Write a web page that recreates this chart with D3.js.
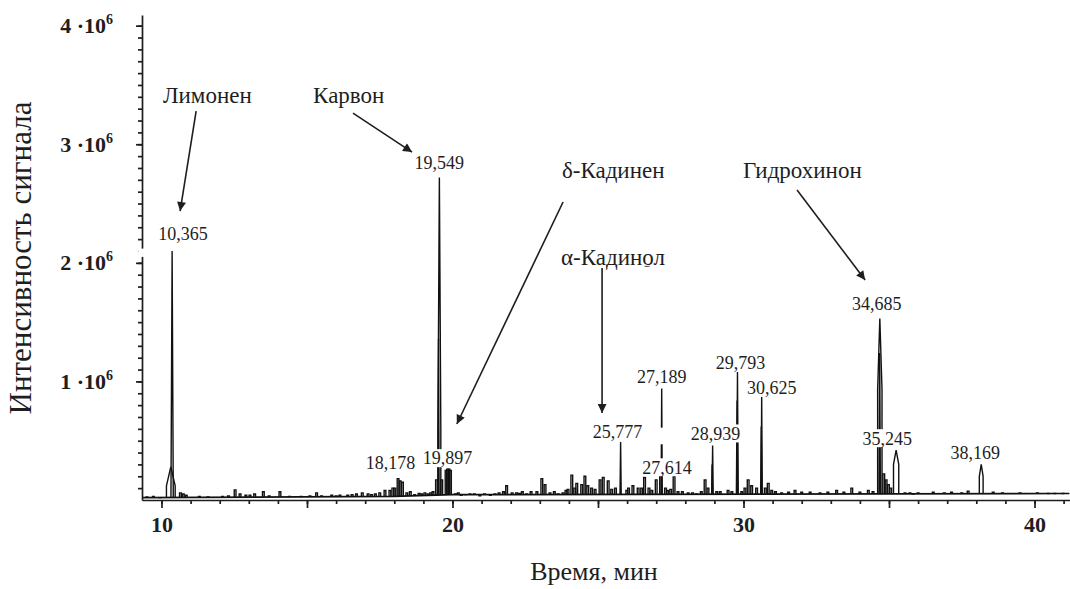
<!DOCTYPE html>
<html>
<head>
<meta charset="utf-8">
<script src="https://cdn.jsdelivr.net/npm/d3@7"></script>
<style>
  body { margin: 0; background: #fff; }
  svg { display: block; }
  text { font-family: "Liberation Serif", "Times New Roman", serif; fill: #1e1e1e; }
</style>
</head>
<body>
<div id="chart"></div>
<script>
//////// data (time in min, intensity in 10^6) ////////

// main peaks: retention time, top, base width, height where the two flanks meet
var peakTimes   = [10.32, 10.365, 19.549, 19.52, 25.777, 27.189, 28.939, 28.92, 29.793, 29.78, 30.625, 30.61, 34.685, 34.68, 35.245, 38.169];
var peakHeights = [0.28,  2.10,   2.72,   1.36,  0.49,   0.94,   0.46,   0.30,  1.08,   0.84,  0.87,   0.62,  1.53,   1.24,  0.42,   0.30];
var peakWidths  = [0.30,  0.08,   0.10,   0.04,  0.04,   0.04,   0.04,   0.03,  0.05,   0.05,  0.04,   0.04,  0.15,   0.05,  0.18,   0.13];
var peakFlanks  = [0.12,  0,      0.60,   0,     0,      0,      0,      0,     0,      0,     0,      0,     0.93,   0,     0.30,   0.20];

// small peaks along the baseline
var noiseTimes = [9.5, 9.72, 9.95, 10.65, 10.75, 10.85, 12.1, 12.53, 12.7, 13.04, 13.2, 13.5, 14.07,
  15.33, 15.5, 15.85, 16.13, 16.4, 16.7, 16.9, 17.22, 17.5, 17.68, 17.85, 18.02, 18.13, 18.2, 18.28,
  18.43, 18.7, 18.94, 19.16, 19.33, 19.45, 19.63, 19.78, 19.83, 19.88, 19.93,
  20.1, 20.3, 20.45, 20.94, 21.3, 21.46, 21.86, 22.05, 22.2, 22.3, 22.55, 22.9, 23.07, 23.18, 23.35,
  23.63, 23.8, 23.97, 24.1, 24.27, 24.44, 24.55, 24.78, 25.07, 25.18, 25.35, 25.47, 25.99, 26.2,
  26.38, 26.6, 26.85, 27.0, 27.15, 27.32, 27.4, 27.614, 27.75, 28.1, 28.39, 28.68, 28.78, 29.08,
  29.47, 29.94, 30.16, 30.28, 30.45, 30.85, 30.97, 31.31, 31.77, 32.29, 32.63, 33.2, 33.72, 34.0,
  34.29, 34.45, 34.82, 34.9, 34.98, 35.06, 35.55, 35.72, 35.83, 36.52, 37.15, 37.72, 38.58,
  40.47, 40.7, 40.98,
  11.3, 11.6, 12.3, 12.9, 13.7, 14.4, 14.8, 15.1, 16.0, 16.55, 17.1, 17.35, 17.95, 18.55, 18.85,
  19.05, 19.25, 20.2, 20.6, 20.75, 21.1, 21.6, 21.75, 22.4, 22.7, 23.5, 23.9, 24.2, 24.65, 24.9,
  25.6, 26.05, 26.5, 26.75, 27.5, 27.9, 28.25, 28.55, 29.2, 29.6, 30.05, 30.75, 31.1, 31.55, 32.0,
  32.9, 33.45, 36.0, 36.9, 37.5, 38.9, 39.5, 40.1];
var noiseHeights = [0.025, 0.03, 0.02, 0.06, 0.05, 0.04, 0.03, 0.085, 0.05, 0.04, 0.05, 0.07, 0.07,
  0.06, 0.035, 0.04, 0.04, 0.04, 0.05, 0.06, 0.045, 0.06, 0.08, 0.08, 0.1, 0.18, 0.16, 0.15,
  0.06, 0.045, 0.05, 0.05, 0.07, 0.17, 0.17, 0.25, 0.26, 0.26, 0.25,
  0.05, 0.04, 0.045, 0.035, 0.04, 0.05, 0.12, 0.06, 0.06, 0.055, 0.05, 0.07, 0.18, 0.13, 0.06,
  0.05, 0.06, 0.09, 0.21, 0.14, 0.13, 0.2, 0.1, 0.17, 0.19, 0.16, 0.09, 0.08, 0.12,
  0.1, 0.19, 0.08, 0.17, 0.2, 0.1, 0.08, 0.2, 0.07, 0.06, 0.05, 0.17, 0.1, 0.07,
  0.08, 0.07, 0.17, 0.12, 0.1, 0.14, 0.08, 0.06, 0.08, 0.065, 0.06, 0.08, 0.1, 0.065,
  0.08, 0.07, 0.22, 0.17, 0.13, 0.1, 0.06, 0.06, 0.05, 0.065, 0.065, 0.075, 0.065,
  0.055, 0.055, 0.055,
  0.03, 0.025, 0.035, 0.04, 0.035, 0.03, 0.03, 0.035, 0.035, 0.045, 0.05, 0.05, 0.1, 0.07, 0.055,
  0.06, 0.06, 0.06, 0.05, 0.05, 0.05, 0.06, 0.07, 0.07, 0.07, 0.07, 0.08, 0.1, 0.12, 0.09,
  0.1, 0.1, 0.1, 0.1, 0.09, 0.07, 0.06, 0.07, 0.07, 0.07, 0.1, 0.1, 0.07, 0.065, 0.065,
  0.065, 0.065, 0.06, 0.06, 0.06, 0.06, 0.06, 0.06];

// baseline level of the trace
var baseTimes  = [9.35, 18, 20, 41.2];
var baseLevels = [0.02, 0.03, 0.045, 0.055];

// peak labels
var labelTexts   = ["10,365", "19,549", "18,178", "19,897", "25,777", "27,189", "27,614", "28,939", "29,793", "30,625", "34,685", "35,245", "38,169"];
var labelTimes   = [10.365, 19.549, 18.178, 19.897, 25.777, 27.189, 27.614, 28.939, 29.793, 30.625, 34.685, 35.245, 38.169];
var labelHeights = [2.10, 2.72, 0.18, 0.26, 0.49, 0.94, 0.20, 0.46, 1.08, 0.87, 1.53, 0.42, 0.30];

// compound names
var names = ["Лимонен", "Карвон", "δ-Кадинен", "α-Кадинол", "Гидрохинон"];

var xTicks = [10, 20, 30, 40];
var yTicks = [1, 2, 3, 4];

//////// layout ////////
var width = 1070, height = 589;

var x = d3.scaleLinear().domain([9.33, 41.22]).range([142, 1070]);
var y = d3.scaleLinear().domain([0, 4.09]).range([500, 15]);
var base = d3.scaleLinear().domain(baseTimes).range(baseLevels);

// label offsets (px) from peak top
var labelDx = [11, 0, -9, -2, -3, 0, -7, 3, 3, 10, -3, -9, -6];
var labelLift = [17, 15, 16, 11, 10, 12, 9, 12, 9, 9, 15, 12, 12];

// name text positions and arrows, in chart units
var nameAt    = [[10.05, 3.347], [15.21, 3.347], [23.76, 2.715], [23.73, 1.98], [29.98, 2.715]];
var arrowFrom = [[11.19, 3.28], [16.58, 3.263], [23.8, 2.513], [25.14, 1.956], [31.84, 2.614]];
var arrowTo   = [[10.64, 2.437], [18.61, 2.934], [20.15, 0.641], [25.14, 0.734], [34.18, 1.855]];

var svg = d3.select("#chart").append("svg")
  .attr("width", width)
  .attr("height", height);

svg.append("defs").append("marker")
  .attr("id", "arrow")
  .attr("viewBox", "0 0 10 10")
  .attr("refX", 10)
  .attr("refY", 5)
  .attr("markerWidth", 10)
  .attr("markerHeight", 9)
  .attr("markerUnits", "userSpaceOnUse")
  .attr("orient", "auto")
  .append("path")
  .attr("d", "M0,0 L10,5 L0,10 Z")
  .attr("fill", "#1e1e1e");

//////// trace ////////
var line = d3.line()
  .x(function(d) { return x(d[0]); })
  .y(function(d) { return y(d[1]); });

var trace = svg.append("g")
  .attr("fill", "none")
  .attr("stroke", "#111")
  .attr("stroke-width", 1.4)
  .attr("stroke-linejoin", "miter");

trace.append("path")
  .attr("stroke-width", 1.7)
  .attr("d", line(baseTimes.map(function(t, i) { return [t, baseLevels[i]]; })));

function peakPoints(t, h, w, f) {
  var b = base(t);
  var pts = [[t - w / 2, b]];
  if (f > 0) pts.push([t - w / 2, f]);
  pts.push([t, h]);
  if (f > 0) pts.push([t + w / 2, f]);
  pts.push([t + w / 2, b]);
  return pts;
}

// small peaks drawn as narrow steps
function stepPoints(t, h, w) {
  var b = base(t);
  return [[t - w / 2, b], [t - w / 2, h], [t + w / 2, h], [t + w / 2, b]];
}

trace.selectAll(".noise")
  .data(noiseTimes)
  .enter().append("path")
  .attr("class", "noise")
  .attr("d", function(t, i) { return line(stepPoints(t, noiseHeights[i], 0.06)); });

trace.selectAll(".peak")
  .data(peakTimes)
  .enter().append("path")
  .attr("class", "peak")
  .attr("d", function(t, i) { return line(peakPoints(t, peakHeights[i], peakWidths[i], peakFlanks[i])); });

//////// axes ////////
var axisColor = "#1e1e1e";

function styleAxis(g) {
  g.selectAll("path, line").attr("stroke", axisColor).attr("stroke-width", 1.7);
  g.selectAll("text")
    .attr("font-family", "Liberation Serif, serif")
    .attr("font-weight", "bold")
    .attr("fill", axisColor);
}

// x minor ticks every minute, mid ticks every 5
svg.append("g")
  .attr("transform", "translate(0,500)")
  .call(d3.axisBottom(x).tickValues(d3.range(10, 42)).tickSize(4).tickFormat(""))
  .call(styleAxis)
  .select(".domain").remove();
svg.append("g")
  .attr("transform", "translate(0,500)")
  .call(d3.axisBottom(x).tickValues([15, 25, 35]).tickSize(8).tickFormat(""))
  .call(styleAxis)
  .select(".domain").remove();
svg.append("g")
  .attr("transform", "translate(0,500)")
  .call(d3.axisBottom(x).tickValues(xTicks).tickSize(8).tickSizeOuter(0).tickPadding(8))
  .call(styleAxis)
  .selectAll("text").attr("font-size", 22);

// y minor ticks every 0.1
svg.append("g")
  .attr("transform", "translate(142,0)")
  .call(d3.axisLeft(y).tickValues(d3.range(1, 41).map(function(v) { return v / 10; })).tickSize(4).tickFormat(""))
  .call(styleAxis)
  .select(".domain").remove();
var yAxis = svg.append("g")
  .attr("transform", "translate(142,0)")
  .call(d3.axisLeft(y).tickValues(yTicks).tickSize(6).tickSizeOuter(0).tickFormat(""))
  .call(styleAxis);

// y labels like 4·10^6
yAxis.selectAll(".tick").append("text")
  .attr("x", -29)
  .attr("y", 7)
  .attr("text-anchor", "end")
  .attr("font-size", 22)
  .attr("font-weight", "bold")
  .attr("fill", axisColor)
  .text(function(d) { return d + " \u00b710"; })
  .append("tspan")
  .attr("dy", -9)
  .attr("font-size", 14)
  .text("6");

// white gaps seen in the picture
var masks = [[9.2, 2.05, 9.5, 2.12], [27.12, 0.47, 27.26, 0.61]];
svg.append("g").selectAll("rect")
  .data(masks)
  .enter().append("rect")
  .attr("x", function(d) { return x(d[0]); })
  .attr("y", function(d) { return y(d[3]); })
  .attr("width", function(d) { return x(d[2]) - x(d[0]); })
  .attr("height", function(d) { return y(d[1]) - y(d[3]); })
  .attr("fill", "#fff");

//////// peak labels (white boxes behind) ////////
var labels = svg.append("g")
  .selectAll("g")
  .data(labelTexts)
  .enter().append("g")
  .attr("transform", function(d, i) {
    return "translate(" + (x(labelTimes[i]) + labelDx[i]) + "," + (y(labelHeights[i]) - labelLift[i]) + ")";
  });

labels.append("rect")
  .attr("x", -26)
  .attr("y", -9)
  .attr("width", 52)
  .attr("height", 18)
  .attr("fill", "#fff");

labels.append("text")
  .attr("text-anchor", "middle")
  .attr("dy", "0.35em")
  .attr("font-size", 18)
  .text(function(d) { return d; });

//////// names and arrows ////////
svg.append("g")
  .selectAll("text")
  .data(names)
  .enter().append("text")
  .attr("x", function(d, i) { return x(nameAt[i][0]); })
  .attr("y", function(d, i) { return y(nameAt[i][1]); })
  .attr("font-size", 23)
  .text(function(d) { return d; });

svg.append("g")
  .selectAll("line")
  .data(names)
  .enter().append("line")
  .attr("x1", function(d, i) { return x(arrowFrom[i][0]); })
  .attr("y1", function(d, i) { return y(arrowFrom[i][1]); })
  .attr("x2", function(d, i) { return x(arrowTo[i][0]); })
  .attr("y2", function(d, i) { return y(arrowTo[i][1]); })
  .attr("stroke", "#1e1e1e")
  .attr("stroke-width", 1.6)
  .attr("marker-end", "url(#arrow)");

// stray dash near 26 min
svg.append("line")
  .attr("x1", x(26.6)).attr("x2", x(26.77))
  .attr("y1", y(1.97)).attr("y2", y(1.97))
  .attr("stroke", "#666").attr("stroke-width", 1.2);

//////// axis titles ////////
svg.append("text")
  .attr("transform", "translate(31,258) rotate(-90)")
  .attr("text-anchor", "middle")
  .attr("font-size", 31)
  .text("Интенсивность сигнала");

svg.append("text")
  .attr("x", 594)
  .attr("y", 580)
  .attr("text-anchor", "middle")
  .attr("font-size", 26)
  .text("Время, мин");
</script>
</body>
</html>
